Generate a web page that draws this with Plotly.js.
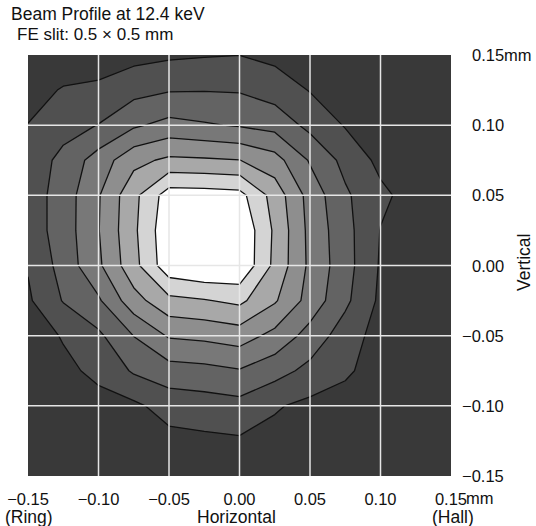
<!DOCTYPE html>
<html>
<head>
<meta charset="utf-8">
<script src="https://cdn.plot.ly/plotly-3.0.1.min.js"></script>
<style>html,body{margin:0;padding:0;background:#fff;}#chart{width:536px;height:526px;}</style>
</head>
<body>
<div id="chart"></div>
<script>
// Horizontal and vertical sampling positions (mm)
const xPos = [-0.15, -0.125, -0.10, -0.075, -0.05, -0.025, 0.00, 0.025, 0.05, 0.075, 0.10, 0.125, 0.15];
const yPos = [0.15, 0.125, 0.10, 0.075, 0.05, 0.025, 0.00, -0.025, -0.05, -0.075, -0.10, -0.125, -0.15];

// Relative beam intensity (contour level units), rows from top (y=+0.15) to bottom (y=-0.15)
const intensity = [
  [0.30, 0.44, 0.44, 0.68, 0.84, 0.93, 0.99, 0.75, 0.60, 0.45, 0.35, 0.28, 0.25],
  [0.65, 1.07, 1.22, 1.68, 1.93, 1.96, 1.92, 1.54, 0.95, 0.60, 0.45, 0.35, 0.30],
  [1.02, 1.60, 2.03, 2.85, 3.31, 3.10, 2.91, 2.65, 1.72, 0.93, 0.60, 0.42, 0.35],
  [1.35, 2.30, 3.45, 4.70, 5.20, 5.13, 5.02, 4.40, 2.90, 1.70, 0.75, 0.55, 0.45],
  [1.45, 2.47, 3.92, 5.72, 7.50, 7.47, 7.34, 5.59, 3.62, 2.16, 1.21, 0.60, 0.45],
  [1.45, 2.47, 3.96, 5.80, 7.76, 8.00, 7.90, 5.83, 3.72, 2.35, 0.97, 0.60, 0.45],
  [1.07, 2.39, 3.82, 5.67, 7.66, 8.00, 7.90, 5.75, 3.78, 2.40, 0.90, 0.60, 0.45],
  [0.85, 2.06, 2.86, 4.61, 5.73, 5.93, 6.23, 5.12, 3.61, 2.22, 0.80, 0.55, 0.45],
  [0.60, 1.06, 1.81, 3.02, 4.11, 4.24, 4.48, 3.70, 2.62, 1.50, 0.60, 0.45, 0.40],
  [0.45, 0.82, 1.18, 2.13, 2.58, 2.70, 2.93, 2.39, 1.72, 1.16, 0.55, 0.42, 0.38],
  [0.35, 0.55, 0.75, 0.80, 1.41, 1.53, 1.67, 1.10, 0.75, 0.60, 0.45, 0.38, 0.33],
  [0.30, 0.40, 0.50, 0.60, 0.70, 0.80, 0.88, 0.70, 0.55, 0.45, 0.38, 0.32, 0.30],
  [0.25, 0.30, 0.35, 0.40, 0.45, 0.50, 0.50, 0.45, 0.40, 0.35, 0.30, 0.28, 0.25]
];

// Contour levels and the gray of each band (outside -> peak)
const levelStart = 1, levelEnd = 7, levelStep = 1;
const bandGrays = ['#393939', '#505050', '#636363', '#787878', '#8e8e8e', '#a8a8a8', '#d4d4d4', '#ffffff'];

// Axis ticks
const tickVals = [-0.15, -0.10, -0.05, 0.00, 0.05, 0.10, 0.15];
const tickLabels = ['\u22120.15', '\u22120.10', '\u22120.05', '0.00', '0.05', '0.10', '0.15'];
const gridVals = tickVals.slice(1, -1);

const W = 536, H = 526;
const M = {l: 28, r: 85, t: 55, b: 50};
const PW = W - M.l - M.r, PH = H - M.t - M.b;
const xp = p => (p - M.l) / PW;
const yp = p => (H - M.b - p) / PH;

const FONT = 'Liberation Sans, Arial, Helvetica, sans-serif';
const TXT = '#111111';

const colorscale = bandGrays.map((c, i) => [i / (bandGrays.length - 1), c]);

const trace = {
  type: 'contour',
  x: xPos,
  y: yPos.slice().reverse(),
  z: intensity.slice().reverse(),
  colorscale: colorscale,
  showscale: false,
  autocontour: false,
  contours: {start: levelStart, end: levelEnd, size: levelStep, coloring: 'fill'},
  line: {color: '#111111', width: 1.3, smoothing: 0},
  hoverinfo: 'skip'
};

const shapes = [];
gridVals.forEach(v => {
  shapes.push({type: 'line', xref: 'x', yref: 'paper', x0: v, x1: v, y0: 0, y1: 1,
    line: {color: '#e6e6e6', width: 1.5}, layer: 'above'});
  shapes.push({type: 'line', xref: 'paper', yref: 'y', x0: 0, x1: 1, y0: v, y1: v,
    line: {color: '#e6e6e6', width: 1.5}, layer: 'above'});
});

const ann = [];
const A = (o) => Object.assign({showarrow: false, font: {family: FONT, size: 16.5, color: TXT}}, o);
ann.push(A({text: 'Beam Profile at 12.4 keV', xref: 'paper', yref: 'paper', x: xp(10), y: yp(14),
  xanchor: 'left', yanchor: 'middle', borderpad: 0, font: {family: FONT, size: 17.5, color: TXT}}));
ann.push(A({text: 'FE slit: 0.5 \u00d7 0.5 mm', xref: 'paper', yref: 'paper', x: xp(16), y: yp(34),
  xanchor: 'left', yanchor: 'middle', borderpad: 0, font: {family: FONT, size: 17, color: TXT}}));
// y tick labels on the right, right-aligned
tickVals.forEach((v, i) => {
  ann.push(A({text: tickLabels[i], xref: 'paper', yref: 'y', x: xp(506), y: v,
    xanchor: 'right', yanchor: 'middle'}));
});
ann.push(A({text: 'mm', xref: 'paper', yref: 'y', x: xp(502), y: tickVals[tickVals.length - 1],
  xanchor: 'left', yanchor: 'middle'}));
ann.push(A({text: 'mm', xref: 'paper', yref: 'paper', x: xp(464), y: yp(498),
  xanchor: 'left', yanchor: 'middle'}));
ann.push(A({text: '(Ring)', xref: 'x', yref: 'paper', x: tickVals[0], xshift: 1, y: yp(517),
  xanchor: 'center', yanchor: 'middle', font: {family: FONT, size: 17.5, color: TXT}}));
ann.push(A({text: '(Hall)', xref: 'x', yref: 'paper', x: tickVals[tickVals.length - 1], xshift: 2, y: yp(517),
  xanchor: 'center', yanchor: 'middle', font: {family: FONT, size: 17.5, color: TXT}}));
ann.push(A({text: 'Horizontal', xref: 'x', yref: 'paper', x: 0, xshift: -3, y: yp(517),
  xanchor: 'center', yanchor: 'middle', font: {family: FONT, size: 17.5, color: TXT}}));
ann.push(A({text: 'Vertical', xref: 'paper', yref: 'paper', x: xp(524), y: yp(263), textangle: -90,
  xanchor: 'center', yanchor: 'middle', font: {family: FONT, size: 17.5, color: TXT}}));

const layout = {
  width: W, height: H,
  margin: M,
  paper_bgcolor: '#ffffff',
  plot_bgcolor: bandGrays[0],
  showlegend: false,
  xaxis: {
    range: [-0.15, 0.15], showgrid: false, zeroline: false, showline: false,
    tickmode: 'array', tickvals: tickVals, ticktext: tickLabels, ticks: '',
    ticklabelstandoff: 11,
    tickfont: {family: FONT, size: 16.5, color: TXT}, fixedrange: true
  },
  yaxis: {
    range: [-0.15, 0.15], showgrid: false, zeroline: false, showline: false,
    showticklabels: false, ticks: '', fixedrange: true
  },
  shapes: shapes,
  annotations: ann
};

Plotly.newPlot('chart', [trace], layout, {displayModeBar: false, staticPlot: true});
</script>
</body>
</html>
